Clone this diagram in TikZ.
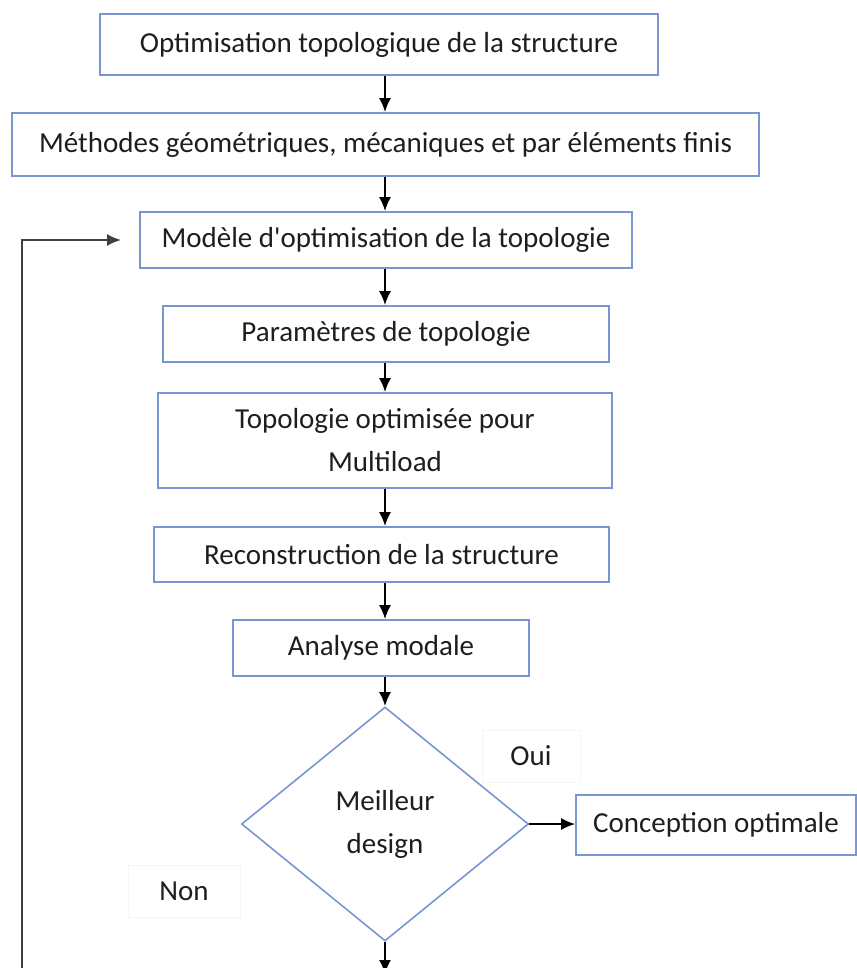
\documentclass[tikz,border=0pt]{standalone}
\usepackage{fontspec}
\setmainfont{Carlito}
\usetikzlibrary{arrows.meta,shapes.geometric}
\definecolor{boxblue}{RGB}{120,150,210}
\definecolor{txtgray}{RGB}{30,30,30}
\begin{document}
\begin{tikzpicture}[x = 0.5pt, y = -0.5pt,
	every node/.style = {font = \fontsize{14.5}{21.5}\selectfont, text = txtgray},
	etape/.style = {draw = boxblue, thick, rectangle, align = center, inner sep = 0pt},
	choix/.style = {draw = boxblue, thick, diamond, align = center, inner sep = 0pt},
	etiquette/.style = {draw = black!4, fill = white, inner sep = 0pt},
	fleche/.style = {-{Latex[length = 7pt, width = 6pt]}, black, line width = 1pt}]
	%	canvas
	\useasboundingbox (0, 0) rectangle (856, 968);
	
	%	blocs
	\node[etape, minimum width = 279pt, minimum height = 30.5pt] (optim) at (379, 44.5) {Optimisation topologique de la structure};
	\node[etape, minimum width = 373.5pt, minimum height = 31.5pt] (methodes) at (385.5, 144.5) {Méthodes géométriques, mécaniques et par éléments finis};
	\node[etape, minimum width = 246pt, minimum height = 28pt] (modele) at (386, 240) {Modèle d\textquotesingle optimisation de la topologie};
	\node[etape, minimum width = 223pt, minimum height = 28pt] (params) at (386, 334) {Paramètres de topologie};
	\node[etape, minimum width = 227pt, minimum height = 47.5pt] (topo) at (385, 440.5) {Topologie optimisée pour\\Multiload};
	\node[etape, minimum width = 227.5pt, minimum height = 27.5pt] (recons) at (381.5, 554.5) {Reconstruction de la structure};
	\node[etape, minimum width = 148pt, minimum height = 28pt] (modale) at (381, 648) {Analyse modale};
	\node[choix, minimum width = 143.5pt, minimum height = 117pt] (design) at (385, 824) {Meilleur\\design};
	\node[etape, minimum width = 140pt, minimum height = 30pt] (conception) at (716, 825) {Conception optimale};
	
	%	labels
	\node[etiquette, minimum width = 49pt, minimum height = 26pt] (oui) at (531, 756) {Oui};
	\node[etiquette, minimum width = 56pt, minimum height = 26pt] (non) at (184, 891) {Non};
	
	%	fleches
	\draw[fleche] (design |- optim.south) -- (design |- methodes.north);
	\draw[fleche] (design |- methodes.south) -- (design |- modele.north);
	\draw[fleche] (design |- modele.south) -- (design |- params.north);
	\draw[fleche] (design |- params.south) -- (design |- topo.north);
	\draw[fleche] (design |- topo.south) -- (design |- recons.north);
	\draw[fleche] (design |- recons.south) -- (design |- modale.north);
	\draw[fleche] (design |- modale.south) -- (design.north);
	\draw[fleche] (design.east) -- (design.east -| conception.west);
	
	%	boucle
	\coordinate (bas) at (385, 974);
	\coordinate (coin) at (22, 990);
	\draw[fleche] (design.south) -- (bas);
	\draw[fleche, black!75, line width = 1.2pt] (coin) |- ([xshift = -9pt]modele.west);
\end{tikzpicture}
\end{document}
